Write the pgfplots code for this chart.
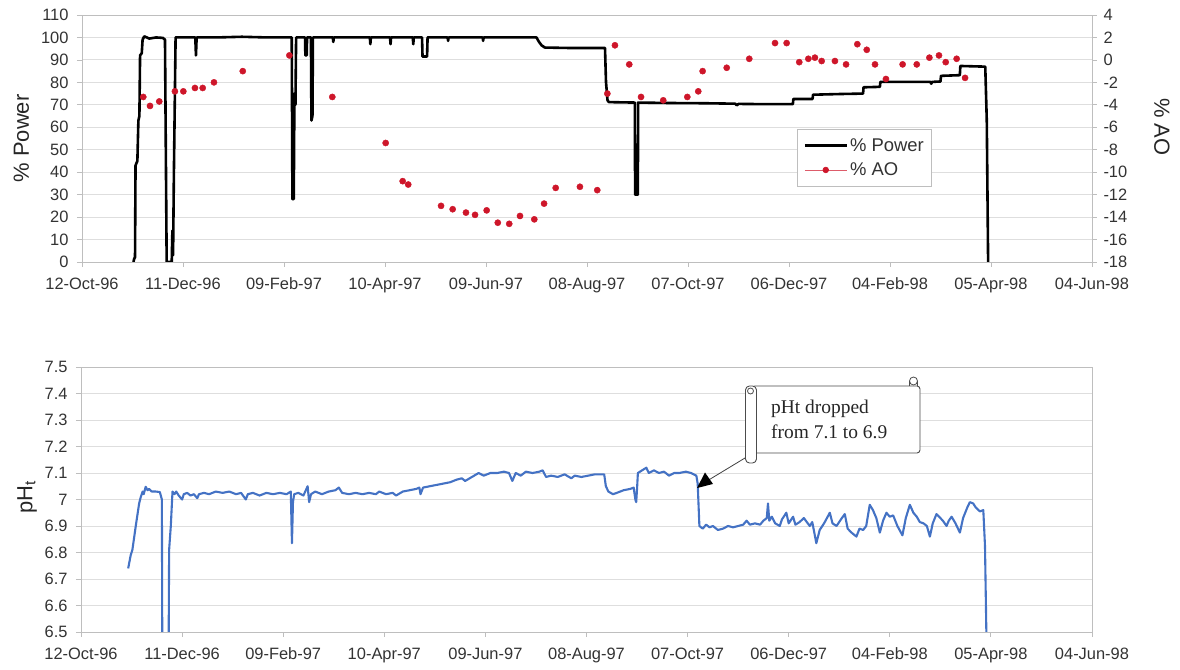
\documentclass[border=0pt]{standalone}
\usepackage{pgfplots}
\pgfplotsset{compat=1.18}
\usepackage{fontspec}
\setmainfont{Liberation Sans}
\newfontfamily\annfont{Liberation Serif}
\usetikzlibrary{arrows.meta}
\definecolor{aored}{RGB}{206,22,42}
\definecolor{phblue}{RGB}{68,114,196}
\definecolor{axgray}{RGB}{190,190,190}
\definecolor{gridgray}{RGB}{222,222,222}
\pgfplotsset{
  base/.style={
    scale only axis,
    xmin=0, xmax=600,
    xtick={0,60,...,600},
    xticklabels={12-Oct-96,11-Dec-96,09-Feb-97,10-Apr-97,09-Jun-97,08-Aug-97,07-Oct-97,06-Dec-97,04-Feb-98,05-Apr-98,04-Jun-98},
    /pgf/number format/assume math mode=true,
    tick label style={font=\fontsize{16.5}{19}\selectfont, text=black!80},
    xticklabel style={yshift=-6bp, text height=12.5bp, text depth=3.5bp},
    axis line style={axgray, line width=0.8bp},
    tick style={axgray, line width=0.8bp},
    tick align=outside,
    major tick length=5bp,
    xtick pos=bottom,
    ymajorgrids,
    major grid style={gridgray, line width=0.9bp},
  }
}
\begin{document}
\begin{tikzpicture}
\useasboundingbox (0,0) rectangle (1180bp,670bp);
% ---------------- top panel: % Power ----------------
\begin{axis}[base,
  at={(82bp,408bp)}, anchor=south west,
  width=1010bp, height=247bp,
  ymin=0, ymax=110, ytick={0,10,...,110},
  ytick pos=left,
  yticklabel style={xshift=-5bp},
  ylabel={\% Power},
  ylabel style={at={(axis description cs:-0.06,0.5)}, anchor=center, font=\fontsize{22}{26}\selectfont, text=black!85},
]
\addplot[black, line width=2.6bp, line join=round] coordinates {
(30.6,0)(31,1.5)(31.5,2)(31.8,43)(32.9,45)(33.5,63)(34.1,65)(34.5,92)(35.5,93)(36,99)(37,100.5)(40,99.5)(44,100)(48,99.8)(49.3,99)(50.3,0)(53.3,0)(53.7,14)(54.1,3)(54.6,40)(55.6,100)(60,100)(67.3,100)(67.7,92)(68.1,100)
(80,100)(95,100.3)(110,100)(124.6,100)(125,28)(125.8,28)(126.2,75)(126.8,70)(127.2,100)(132.5,100)(132.7,92)(133.5,92)(133.7,100)(136,100)(136.3,63)(136.9,65)(137.2,100)
(149,100)(149.3,98)(149.6,100)(171,100)(171.3,97)(171.6,100)(183,100)(183.3,97)(183.6,100)(196.5,100)(196.8,97)(197.1,100)(202,100)(202.3,91.5)(205,91.5)(205.3,100)(217.2,100)(217.5,98.5)(217.8,100)(238,100)(238.3,98.5)(238.6,100)(255,100)(270,100)(271.5,98)(273,96.5)(275,95.5)(290,95.3)(310.7,95.3)(311.3,80)(312.2,72)(313,71.2)
(328.4,71)(328.6,30)(330.2,30)(330.4,71)(350,70.8)(370,70.7)(388,70.5)(389,69.8)(390,70.4)(405,70.3)(422.3,70.3)(422.6,72.6)(434,72.6)(434.3,74.5)(450,74.8)(464,75)(464.3,77.8)(474,78)(474.3,80.2)(495,80.2)(504,80.2)(504.5,79.4)(505,80.2)(510,80.4)(510.3,82.9)(521.5,83.2)(521.8,87.3)(536.6,87)(537.5,63)(538.3,0)
};
\end{axis}
% ---------------- top panel: % AO ----------------
\begin{axis}[base,
  at={(82bp,408bp)}, anchor=south west,
  width=1010bp, height=247bp,
  ymin=-18, ymax=4, ytick={-18,-16,...,4},
  axis y line*=right, axis x line=none,
  ymajorgrids=false,
  yticklabel style={anchor=west, xshift=3bp},
  ylabel={\% AO},
  every axis y label/.style={at={(axis description cs:1.0693,0.547)}, anchor=center, rotate=-90, font=\fontsize{22}{26}\selectfont, text=black!85},
  legend style={at={(axis description cs:0.708,0.538)}, anchor=north west, draw=axgray, line width=0.8bp, font=\fontsize{18.5}{21}\selectfont, text=black!80, row sep=6bp, inner xsep=6bp, inner ysep=7bp},
  legend cell align=left,
  legend image code/.code={\draw[mark repeat=2,mark phase=2,#1] plot coordinates {(0bp,0bp) (21bp,0bp) (42bp,0bp)};},
]
\addlegendimage{black, line width=2.6bp}
\addlegendentry{\% Power}
\addlegendimage{aored!70, line width=0.7bp, mark=*, mark size=2.8bp, mark options={fill=aored, draw=aored}}
\addlegendentry{\% AO}
\addplot[only marks, mark=*, mark size=3.1bp, color=aored, forget plot] coordinates {
(36.4,-3.3)(40.4,-4.1)(45.9,-3.7)(55.2,-2.8)(60.2,-2.8)(67.1,-2.5)(71.7,-2.5)(78.4,-2.0)(95.5,-1.0)(123.2,0.4)(148.7,-3.3)(180.4,-7.4)
(190.5,-10.8)(193.8,-11.1)(213.3,-13.0)(220.2,-13.3)(228.1,-13.6)(233.5,-13.8)(240.4,-13.4)(247.0,-14.5)(253.8,-14.6)(260.2,-13.9)(268.7,-14.2)(274.5,-12.8)(281.4,-11.4)(295.8,-11.3)(306.1,-11.6)
(312.1,-3.0)(316.6,1.3)(325.1,-0.4)(332.1,-3.3)(345.3,-3.6)(359.6,-3.3)(366.1,-2.8)(368.7,-1.0)(383.0,-0.7)(396.4,0.1)(411.7,1.5)(418.6,1.5)
(426.1,-0.2)(431.5,0.1)(435.4,0.2)(439.4,-0.1)(447.3,-0.1)(453.9,-0.4)(460.6,1.4)(466.2,0.9)(471.1,-0.4)(477.6,-1.7)(487.5,-0.4)(495.9,-0.4)(503.4,0.2)(509.1,0.4)(513.1,-0.2)(519.6,0.1)(524.6,-1.6)
};
\end{axis}
% ---------------- bottom panel: pHt ----------------
\begin{axis}[base,
  at={(81bp,38bp)}, anchor=south west,
  width=1011bp, height=265bp,
  ymin=6.5, ymax=7.5, ytick={6.5,6.6,6.7,6.8,6.9,7,7.1,7.2,7.3,7.4,7.5},
  ytick pos=left,
  yticklabel style={xshift=-5bp},
  ylabel={pH\textsubscript{t}},
  ylabel style={at={(axis description cs:-0.0534,0.509)}, anchor=center, font=\fontsize{22}{26}\selectfont, text=black!85},
]
\addplot[phblue, line width=2.1bp, line join=round] coordinates {
(28,6.74)(29.5,6.79)(30.5,6.81)(32.5,6.90)(34.5,6.985)(35.5,7.01)(36.6,7.03)(37.2,7.02)(38.4,7.048)(39.5,7.035)(40.4,7.04)(42,7.03)(44.4,7.03)(46.8,7.028)(48,7.0)(48.3,6.3)
(51.9,6.3)(52.3,6.81)(53.3,6.9)(54.3,7.03)(55.5,7.02)(56.5,7.03)(58,7.015)(60,7.0)(61,7.02)(63,7.025)(65,7.015)(67,7.02)(69,7.005)(70,7.02)(73,7.025)(76,7.02)(80,7.03)(84,7.025)(88,7.03)(92,7.02)(95,7.025)(97.8,7.0)(99,7.02)(102,7.025)(106,7.015)(110,7.025)(114,7.02)(118,7.025)(122,7.02)(124.5,7.03)(125.2,6.835)(125.8,6.99)(126.5,7.02)(129,7.025)(132,7.015)(134.5,7.05)(135.4,6.99)(136.5,7.02)(139,7.03)(143,7.02)(147,7.03)(151,7.035)(153,7.045)(155,7.025)(159,7.02)(163,7.025)(167,7.02)(171,7.025)(175,7.02)(177,7.03)(181,7.02)(185,7.025)(187,7.015)(191,7.03)(195,7.035)(199,7.04)(200.8,7.045)(201.5,7.02)(203,7.045)(207,7.05)(211,7.055)(215,7.06)(219,7.065)(223,7.075)(226,7.08)(228,7.07)(232,7.085)(236,7.1)(239,7.09)(243,7.1)(247,7.1)(251,7.105)(254,7.1)(256,7.07)(258,7.1)(261,7.09)(264,7.105)(268,7.1)(272,7.105)(274,7.11)(276,7.085)(279,7.09)(283,7.085)(287,7.095)(291,7.08)(293,7.09)(297,7.085)(301,7.09)(305,7.095)(310.5,7.095)(311.5,7.05)(313,7.03)(315.7,7.02)(318,7.025)(322,7.035)(326,7.04)(328,7.045)(329,7.0)(329.5,6.99)(330,7.04)(330.5,7.10)(333,7.11)(335.5,7.12)(337,7.1)(340,7.11)(343,7.1)(346,7.105)(349,7.09)(352,7.1)(355,7.1)(359,7.105)(362,7.1)(365.2,7.09)(366,7.06)(367,6.90)(369,6.89)(371,6.905)(373,6.895)(375,6.9)(378,6.885)(381,6.89)(384,6.9)(387,6.895)(390,6.9)(393,6.905)(395,6.92)(397,6.905)(400,6.91)(403,6.905)(405,6.92)(407,6.93)(407.7,6.985)(408.5,6.92)(410,6.935)(412,6.91)(414.7,6.9)(416,6.925)(418.6,6.95)(420,6.91)(422.6,6.935)(424,6.905)(426.5,6.915)(429,6.93)(432.5,6.9)(434,6.915)(436.4,6.835)(438.4,6.885)(441,6.91)(444.4,6.95)(446,6.91)(448.4,6.9)(451,6.925)(453.3,6.945)(455,6.89)(457.3,6.875)(460.2,6.86)(462,6.89)(464.2,6.885)(466,6.9)(468.1,6.98)(470,6.96)(472,6.93)(474.1,6.875)(476,6.92)(478,6.95)(480,6.935)(482,6.94)(484.5,6.9)(487.5,6.865)(489.5,6.93)(491.9,6.98)(494,6.95)(496,6.935)(497.8,6.915)(500,6.91)(502,6.9)(503.8,6.86)(505.5,6.91)(507.7,6.945)(510,6.93)(511.5,6.92)(513.7,6.9)(515,6.92)(516.7,6.935)(519,6.91)(521.6,6.875)(523.5,6.93)(526,6.97)(527.5,6.99)(529.5,6.985)(531,6.97)(533.5,6.955)(535.5,6.96)(536.5,6.825)(537.8,6.3)
};
\end{axis}
% ---------------- callout ----------------
\begin{scope}[x=1bp,y=1bp]
\draw[black!75, line width=0.8bp] (745,212) -- (707,189);
\fill[black] (697,182) -- (713,186) -- (705,197.5) -- cycle;
\draw[black!70, line width=0.9bp, fill=white, rounded corners=3bp] (752,217) rectangle (920,284);
\draw[black!70, line width=0.9bp, fill=white, rounded corners=4bp] (745.5,207) rectangle (756.5,284);
\draw[black!70, line width=0.8bp, fill=white] (750.5,279) circle (3bp);
\draw[black!70, line width=0.8bp, fill=white] (913.5,289) circle (4bp);
\draw[black!70, line width=0.8bp] (909.5,284) -- (909.5,289);
\draw[black!70, line width=0.8bp] (917.5,284) -- (917.5,289);
\node[anchor=west, align=left, inner sep=0pt, font=\annfont\fontsize{19.5}{25}\selectfont, text=black!85] at (771,251) {pHt dropped\\from 7.1 to 6.9};
\end{scope}
\end{tikzpicture}
\end{document}
